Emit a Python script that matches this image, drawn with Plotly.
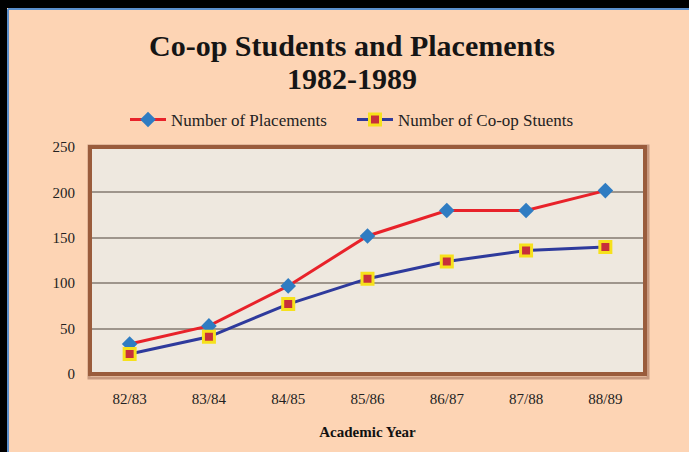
import plotly.graph_objects as go

years = ["82/83", "83/84", "84/85", "85/86", "86/87", "87/88", "88/89"]
placements = [33, 53, 97, 152, 180, 180, 202]
students = [22, 41, 77, 105, 124, 136, 140]
y_ticks = [0, 50, 100, 150, 200, 250]

W, H = 689, 452
ML, MR, MT, MB = 90, 44, 147, 78
pw = W - ML - MR
ph = H - MT - MB

def px2x(x):
    return (x - ML) / pw

def px2y(y):
    return (H - MB - y) / ph

peach = "#FDD4B4"
serif = "Liberation Serif, Times New Roman, serif"

fig = go.Figure()
fig.add_trace(go.Scatter(
    x=years, y=placements, name="Number of Placements", mode="lines+markers",
    line=dict(color="#E8222A", width=3),
    marker=dict(symbol="diamond", size=12, color="#2F7CC2", line=dict(width=0)),
))
fig.add_trace(go.Scatter(
    x=years, y=students, name="Number of Co-op Stuents", mode="lines+markers",
    line=dict(color="#2E3A9C", width=3),
    marker=dict(symbol="square", size=11, color="#C8303A", line=dict(width=3, color="#F6E11C")),
))

shapes = [
    dict(type="rect", xref="paper", yref="paper", x0=px2x(-5), x1=px2x(W + 5), y0=px2y(8), y1=px2y(-5),
         fillcolor="#000000", line=dict(width=0), layer="above"),
    dict(type="rect", xref="paper", yref="paper", x0=px2x(-5), x1=px2x(7), y0=px2y(H + 5), y1=px2y(-5),
         fillcolor="#000000", line=dict(width=0), layer="above"),
    dict(type="line", xref="paper", yref="paper", x0=px2x(8), x1=px2x(W + 5), y0=px2y(9), y1=px2y(9),
         line=dict(color="#5B8FCB", width=2), layer="above"),
    dict(type="line", xref="paper", yref="paper", x0=px2x(8), x1=px2x(8), y0=px2y(9), y1=px2y(H + 5),
         line=dict(color="#5B8FCB", width=2), layer="above"),
    dict(type="rect", xref="paper", yref="paper", x0=px2x(ML - 1), x1=px2x(W - MR + 3),
         y0=px2y(H - MB + 4), y1=px2y(MT - 1),
         line=dict(color="#C89A80", width=3), fillcolor="rgba(0,0,0,0)", layer="below"),
    dict(type="rect", xref="paper", yref="paper", x0=0, x1=1, y0=0, y1=1,
         line=dict(color="#9A5C3C", width=4), fillcolor="rgba(0,0,0,0)", layer="above"),
]

title_lines = ["Co-op Students and Placements", "1982-1989"]
title_y = [45, 78]
annotations = [
    dict(text="<b>%s</b>" % t, xref="paper", yref="paper", x=px2x(352), y=px2y(yy),
         xanchor="center", yanchor="middle", showarrow=False,
         font=dict(family=serif, size=30, color="#151515"))
    for t, yy in zip(title_lines, title_y)
]

fig.update_layout(
    width=W, height=H,
    margin=dict(l=ML, r=MR, t=MT, b=MB),
    paper_bgcolor=peach,
    plot_bgcolor="#EEE8DF",
    annotations=annotations,
    legend=dict(orientation="h", x=px2x(352), xanchor="center", xref="paper",
                y=px2y(120), yanchor="middle",
                font=dict(family=serif, size=17, color="#222222"),
                bgcolor="rgba(0,0,0,0)", itemwidth=36, tracegroupgap=0,
                entrywidth=176),
    showlegend=True,
    shapes=shapes,
    xaxis=dict(
        type="category", categoryorder="array", categoryarray=years,
        range=[-0.5, len(years) - 0.5],
        showgrid=False, zeroline=False, showline=False, ticks="",
        tickfont=dict(family=serif, size=15, color="#222222"),
        ticklabelstandoff=14,
        title=dict(text="<b>Academic Year</b>", font=dict(family=serif, size=15, color="#111111"), standoff=20),
    ),
    yaxis=dict(
        range=[0, 250], tickvals=y_ticks, ticktext=[str(v) for v in y_ticks],
        showgrid=True, gridcolor="#9E958C", gridwidth=1.5, zeroline=False, showline=False, ticks="",
        tickfont=dict(family=serif, size=15, color="#222222"),
        ticklabelstandoff=14,
    ),
)

fig.write_html("out.html", config={"displayModeBar": False},
               post_script="document.body.style.margin='0';document.body.style.padding='0';document.body.style.overflow='hidden';")
